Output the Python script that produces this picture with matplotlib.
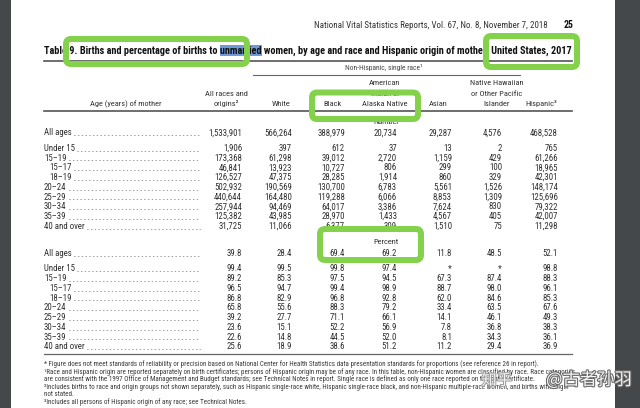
import matplotlib
matplotlib.use("Agg")
import matplotlib.pyplot as plt
from matplotlib import font_manager
from matplotlib.patches import FancyBboxPatch, Rectangle
import matplotlib.patheffects as pe

# ---------------- data ----------------
age_labels = ["All ages", "Under 15", "15–19", "15–17", "18–19", "20–24",
              "25–29", "30–34", "35–39", "40 and over"]
sub_ages = {"15–17", "18–19"}

col_headers = ["All races and\norigins²", "White", "Black",
               "American\nIndian or\nAlaska Native", "Asian",
               "Native Hawaiian\nor Other Pacific\nIslander", "Hispanic³"]

births_all      = [1533901, 1906, 173368, 46841, 126527, 502932, 440644, 257944, 125382, 31725]
births_white    = [566264, 397, 61298, 13923, 47375, 190569, 164480, 94469, 43985, 11066]
births_black    = [388979, 612, 39012, 10727, 28285, 130700, 119288, 64017, 28970, 6377]
births_aian     = [20734, 37, 2720, 806, 1914, 6783, 6066, 3386, 1433, 309]
births_asian    = [29287, 13, 1159, 299, 860, 5561, 8853, 7624, 4567, 1510]
births_nhopi    = [4576, 2, 429, 100, 329, 1526, 1309, 830, 405, 75]
births_hispanic = [468528, 765, 61266, 18965, 42301, 148174, 125696, 79322, 42007, 11298]

pct_all      = [39.8, 99.4, 89.2, 96.5, 86.8, 65.8, 39.2, 23.6, 22.6, 25.6]
pct_white    = [28.4, 99.5, 85.3, 94.7, 82.9, 55.6, 27.7, 15.1, 14.8, 18.9]
pct_black    = [69.4, 99.8, 97.5, 99.4, 96.8, 88.3, 71.1, 52.2, 44.5, 38.6]
pct_aian     = [69.2, 97.4, 94.5, 98.9, 92.8, 79.2, 66.1, 56.9, 52.0, 51.2]
pct_asian    = [11.8, None, 67.3, 88.7, 62.0, 33.4, 14.1, 7.8, 8.1, 11.2]
pct_nhopi    = [48.5, None, 87.4, 98.0, 84.6, 63.5, 46.1, 36.8, 34.3, 29.4]
pct_hispanic = [52.1, 98.8, 88.3, 96.1, 85.3, 67.6, 49.3, 38.3, 36.1, 36.9]

header_text = "National Vital Statistics Reports, Vol. 67, No. 8, November 7, 2018"
page_no = "25"
title_pre = "Table 9. Births and percentage of births to "
title_hl = "unmarried"
title_post = " women, by age and race and Hispanic origin of mother: United States, 2017"
spanner = "Non-Hispanic, single race¹"
footnotes = [
    "* Figure does not meet standards of reliability or precision based on National Center for Health Statistics data presentation standards for proportions (see reference 26 in report).",
    "¹Race and Hispanic origin are reported separately on birth certificates; persons of Hispanic origin may be of any race. In this table, non-Hispanic women are classified by race. Race categories",
    "are consistent with the 1997 Office of Management and Budget standards; see Technical Notes in report. Single race is defined as only one race reported on the birth certificate.",
    "²Includes births to race and origin groups not shown separately, such as Hispanic single-race white, Hispanic single-race black, and non-Hispanic multiple-race women, and births with origin",
    "not stated.",
    "³Includes all persons of Hispanic origin of any race; see Technical Notes.",
]
watermark_site = "知乎"
watermark_user = "@古者孙羽"

births = [births_all, births_white, births_black, births_aian, births_asian, births_nhopi, births_hispanic]
pcts = [pct_all, pct_white, pct_black, pct_aian, pct_asian, pct_nhopi, pct_hispanic]

# ---------------- font choice (prefer a condensed sans) ----------------
ttf = font_manager.fontManager.ttflist
def has(name, condensed):
    for f in ttf:
        if f.name == name:
            st = str(f.stretch)
            if not condensed or "condensed" in st or st in ("100", "200", "300", "400"):
                return True
    return False

FONT = dict(family=["Liberation Sans", "DejaVu Sans"])
for name, cond in [("Liberation Sans Narrow", False), ("Roboto Condensed", False),
                   ("Noto Sans", True), ("DejaVu Sans", True), ("Open Sans", True)]:
    if has(name, cond):
        FONT = dict(family=[name, "DejaVu Sans"])
        if cond:
            FONT["stretch"] = "condensed"
        break

# ---------------- layout ----------------
W, H = 640, 408
fig = plt.figure(figsize=(6.4, 4.08), dpi=100)
ax = fig.add_axes([0, 0, 1, 1])
ax.set_xlim(0, W)
ax.set_ylim(H, 0)
ax.axis("off")
fig.patch.set_facecolor("white")
renderer = fig.canvas.get_renderer()
INK = "#2e2e2e"

def tx(x, y, s, size, ha="left", va="baseline", weight="normal", color=INK, **kw):
    return ax.text(x, y, s, fontsize=size, ha=ha, va=va, weight=weight,
                   color=color, **FONT, **kw)

def width(s, size, weight="normal"):
    t = ax.text(0, 0, s, fontsize=size, weight=weight, **FONT)
    w = t.get_window_extent(renderer).width
    t.remove()
    return w

def fit(s, target_px, weight="normal"):
    return 8.0 * target_px / width(s, 8.0, weight)

LEFT, RIGHT = 44, 572
DS = min(fit("1,533,901", 34), 7.0)   # data font size
HS = DS * 0.96                         # header font size

# running header
tx(548, 28, header_text, size=min(fit(header_text, 233), 6.8), ha="right", color="#333333")
tx(574, 28, page_no, size=7.0, ha="right", weight="bold", color="#111111")

# title, fitted to the rule width
full = title_pre + title_hl + title_post
ts = fit(full, RIGHT - LEFT, "bold")
ty = 53.5
w_pre_hl = width(title_pre + title_hl, ts, "bold")
w_hl = width(title_hl, ts, "bold")
ax.add_patch(Rectangle((LEFT + w_pre_hl - w_hl, ty - 9), w_hl, 11.5,
                       facecolor="#6f9ad8", edgecolor="none", zorder=1))
tx(LEFT, ty, full, size=ts, weight="bold", color="#111111", zorder=2)
ax.plot([LEFT, RIGHT], [61, 61], color="#555555", lw=1.2)

# spanner
tx(384, 70, spanner, size=min(fit(spanner, 78), 6.3), ha="center", color="#444444")
ax.plot([253, 520], [74.5, 74.5], color="#666666", lw=0.8)

# column headers
head_cx = [226, 281, 333, 385, 438, 497, 541]
tx(126, 106, "Age (years) of mother", size=HS, ha="center", color="#333333")
for cx, h in zip(head_cx, col_headers):
    lines = h.split("\n")
    for k, ln in enumerate(reversed(lines)):
        tx(cx, 106 - 10.5 * k, ln, size=HS, ha="center", color="#333333")
ax.plot([LEFT, RIGHT], [110.5, 110.5], color="#555555", lw=1.2)

col_right = [242, 292, 345, 397, 452, 502, 558]

def section(y_first, y_rest, step, values, fmt):
    ys = [y_first] + [y_rest + step * i for i in range(len(age_labels) - 1)]
    for i, (lab, y) in enumerate(zip(age_labels, ys)):
        x0 = LEFT + (5 if lab in sub_ages else 0)
        tx(x0, y + 3.3, lab, size=DS)
        wl = width(lab, DS)
        ax.plot([x0 + wl + 2, 200], [y + 3.0, y + 3.0], color="#8a8a8a", lw=0.6,
                ls=(0, (1, 3.5)), dash_capstyle="round")
        for xr, col in zip(col_right, values):
            tx(xr, y + 3.3, fmt(col[i]), size=DS, ha="right")

tx(386, 124.5, "Number", size=HS, ha="center", color="#333333")
section(132, 147.5, 9.75, births, lambda v: f"{v:,}")

tx(386, 244, "Percent", size=HS, ha="center", color="#333333")
section(253, 268, 9.75, pcts, lambda v: "*" if v is None else f"{v:.1f}")

ax.plot([LEFT, RIGHT], [354, 354], color="#666666", lw=0.9)

# footnotes
fs = fit(footnotes[1], 567 - LEFT)
for k, fn in enumerate(footnotes):
    tx(LEFT, 366 + 7.6 * k, fn, size=fs, color="#3a3a3a")

# green highlight boxes (outer edges in px)
GREEN = "#84d24c"
boxes = [(63, 36, 250, 67), (483, 33, 580, 70), (309, 89.5, 421, 122), (317, 226, 424, 263)]
bw = 6
for x0, y0, x1, y1 in boxes:
    ax.add_patch(FancyBboxPatch((x0 + bw / 2, y0 + bw / 2), x1 - x0 - bw, y1 - y0 - bw,
                                boxstyle="round,pad=0,rounding_size=5",
                                facecolor="none", edgecolor=GREEN, lw=bw * 0.72, zorder=5))

# dark viewer margins
ax.add_patch(Rectangle((0, 0), 10.5, H, facecolor="#45484b", edgecolor="none", zorder=6))
ax.add_patch(Rectangle((615, 0), 25, H, facecolor="#45484b", edgecolor="none", zorder=6))

# watermark
ax.text(512, 385, watermark_site, fontsize=11, ha="right", va="baseline",
        family=["Noto Sans CJK SC", "DejaVu Sans"], color="#f2f2f2", zorder=7,
        path_effects=[pe.withStroke(linewidth=1.4, foreground="#9a9a9a")])
ax.text(632, 385, watermark_user, fontsize=12.5, ha="right", va="baseline",
        family=["Noto Sans CJK SC", "DejaVu Sans"], color="#f4f4f4", zorder=7,
        path_effects=[pe.withStroke(linewidth=1.6, foreground="#6a6a6a")])

fig.savefig("out.png", dpi=100, facecolor="white")
